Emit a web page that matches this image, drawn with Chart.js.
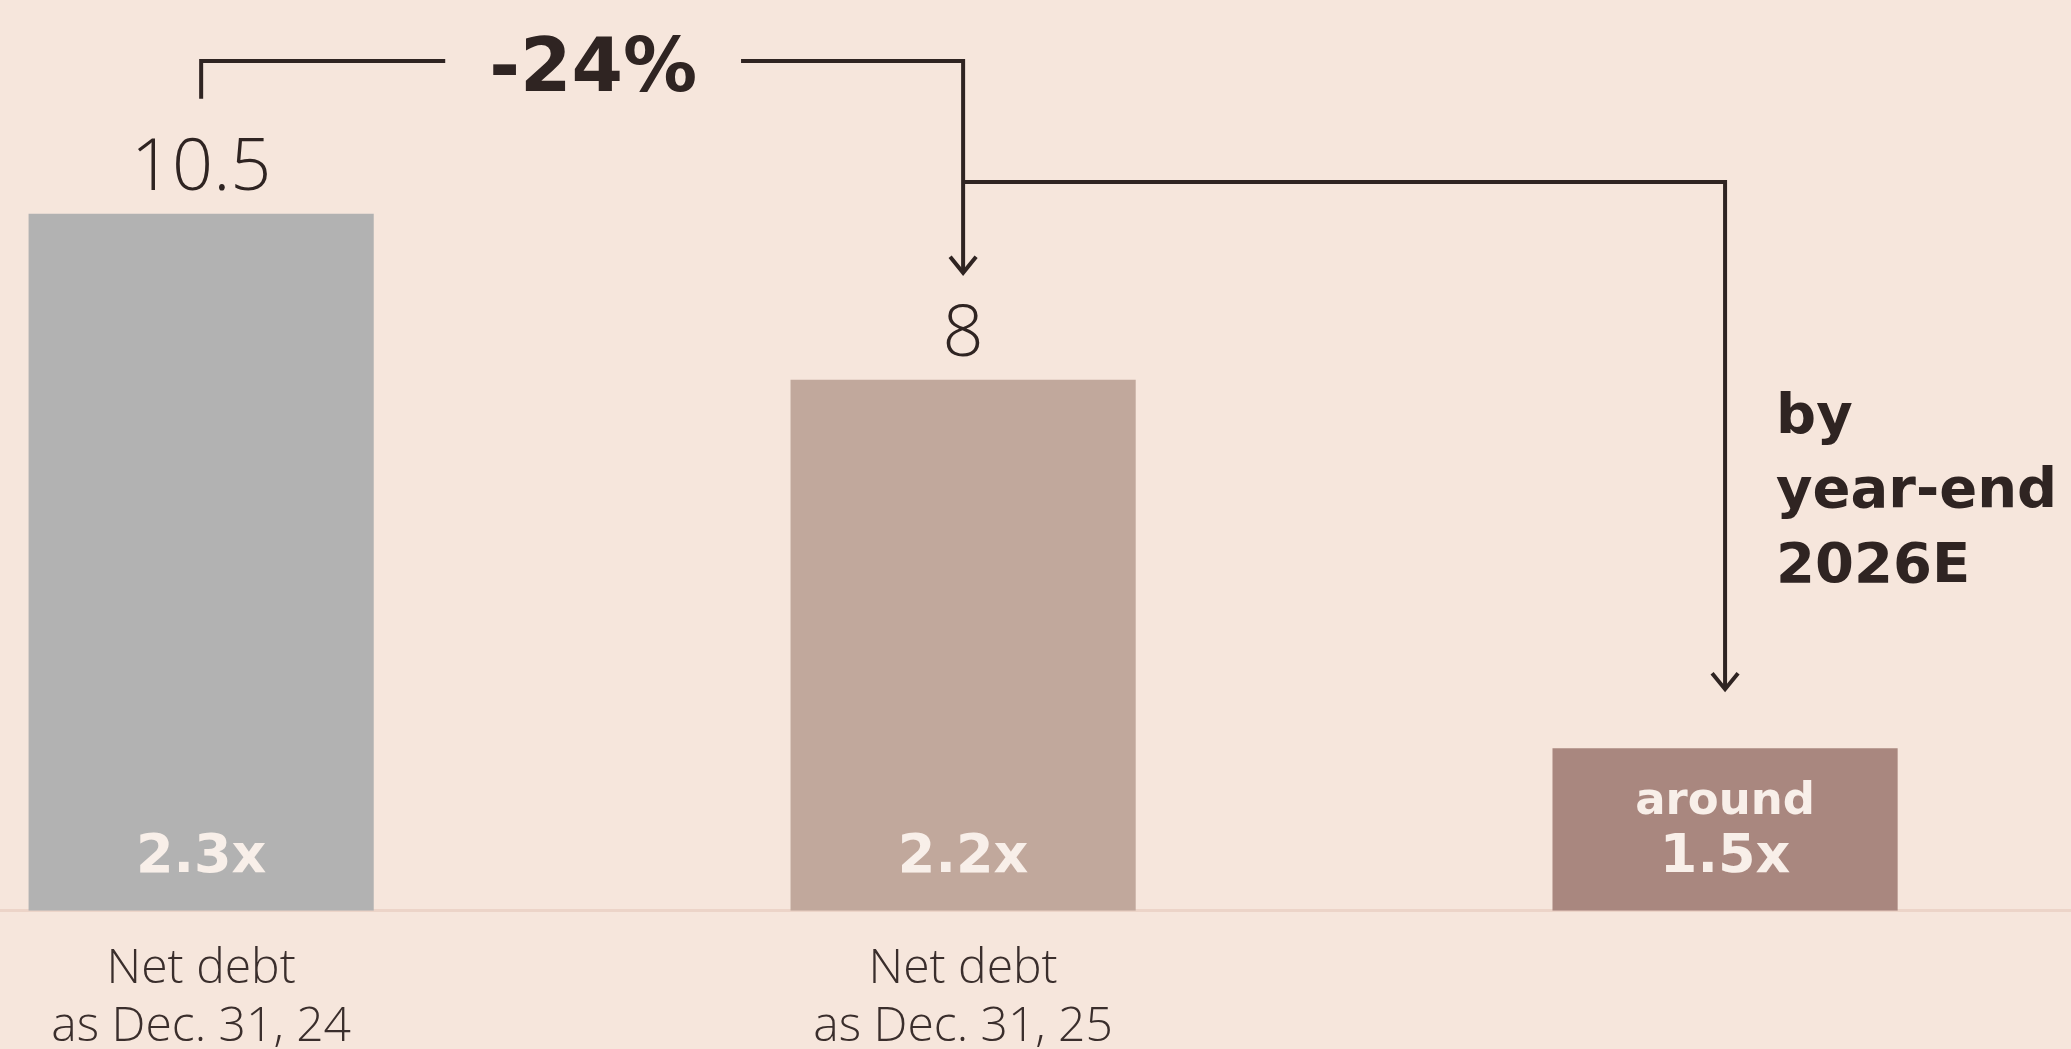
<!DOCTYPE html>
<html>
<head>
<meta charset="utf-8">
<script src="https://cdn.jsdelivr.net/npm/chart.js@4"></script>
<style>
  html, body { margin: 0; padding: 0; background: #f6e6dc; overflow: hidden; }
  #wrap { width: 2071px; height: 1049px; position: relative; }
</style>
</head>
<body>
<div id="wrap"><canvas id="debtChart"></canvas></div>
<script>
// data
const tickLabels = [['Net debt', 'as Dec. 31, 24'], ['Net debt', 'as Dec. 31, 25'], ''];
const netDebt = [10.5, 8, 2.45];
const valueLabels = ['10.5', '8', ''];
const leverage = ['2.3x', '2.2x', '1.5x'];
const leveragePrefix = ['', '', 'around'];
const changeLabel = '-24%';
const targetNote = ['by', 'year-end', '2026E'];

const barColors = ['#b2b2b2', '#c1a89c', '#a9877f'];
const dark = '#2f2422';
const light = '#f8efe9';

Chart.defaults.font.family = '"Open Sans", sans-serif';

// draws the numbers on/above bars and the bracket arrows
const annotations = {
  id: 'annotations',
  afterDatasetsDraw(chart) {
    const ctx = chart.ctx;
    const bars = chart.getDatasetMeta(0).data;
    const base = chart.scales.y.getPixelForValue(0);
    ctx.save();
    ctx.textAlign = 'center';
    ctx.textBaseline = 'middle';

    bars.forEach((bar, i) => {
      if (valueLabels[i]) {
        ctx.font = '300 72px "Open Sans"';
        ctx.fillStyle = dark;
        ctx.fillText(valueLabels[i], bar.x, bar.y - 44);
      }
      ctx.fillStyle = light;
      ctx.font = 'bold 54px "DejaVu Sans"';
      ctx.fillText(leverage[i], bar.x, base - 53);
      if (leveragePrefix[i]) {
        ctx.font = 'bold 45px "DejaVu Sans"';
        ctx.fillText(leveragePrefix[i], bar.x, base - 108);
      }
    });

    const b0 = bars[0], b1 = bars[1], b2 = bars[2];
    const topY = 61;
    const midY = 182;

    // -24% label
    ctx.font = 'bold 74px "DejaVu Sans"';
    ctx.fillStyle = dark;
    const cx = (b0.x + b1.x) / 2 + 11;
    ctx.fillText(changeLabel, cx, 72);
    const half = ctx.measureText(changeLabel).width / 2 + 44;

    ctx.strokeStyle = dark;
    ctx.lineWidth = 4;
    ctx.lineJoin = 'miter';
    ctx.beginPath();
    ctx.moveTo(b0.x, b0.y - 115);
    ctx.lineTo(b0.x, topY);
    ctx.lineTo(cx - half, topY);
    ctx.moveTo(cx + half, topY);
    ctx.lineTo(b1.x, topY);
    ctx.lineTo(b1.x, b1.y - 107);
    ctx.moveTo(b1.x, midY);
    ctx.lineTo(b2.x, midY);
    ctx.lineTo(b2.x, b2.y - 59);
    ctx.stroke();

    function arrowHead(x, y) {
      ctx.beginPath();
      ctx.moveTo(x - 13, y - 16);
      ctx.lineTo(x, y);
      ctx.lineTo(x + 13, y - 16);
      ctx.stroke();
    }
    arrowHead(b1.x, b1.y - 107);
    arrowHead(b2.x, b2.y - 59);

    // note at the right
    ctx.textAlign = 'left';
    ctx.font = 'bold 56px "DejaVu Sans"';
    const noteY = [418, 492, 567];
    targetNote.forEach((t, i) => ctx.fillText(t, b2.x + 51, noteY[i]));
    ctx.restore();
  }
};

const ctx = document.getElementById('debtChart').getContext('2d');

const myChart = new Chart(ctx, {
  type: 'bar',
  data: {
    datasets: [{
      data: netDebt.map((v, i) => ({ x: i, y: v })),
      backgroundColor: barColors,
      borderWidth: 0,
      barPercentage: 0.453,
      categoryPercentage: 1
    }]
  },
  options: {
    responsive: true,
    maintainAspectRatio: false,
    animation: false,
    layout: { padding: { top: 0, left: 0, right: 0, bottom: -37 } },
    plugins: {
      legend: { display: false },
      tooltip: { enabled: false }
    },
    scales: {
      x: {
        type: 'linear',
        offset: false,
        min: -0.264,
        max: 2.454,
        afterBuildTicks: (axis) => {
          axis.ticks = tickLabels.map((t, i) => ({ value: i }));
        },
        grid: { display: false, drawTicks: false },
        border: { display: true, color: '#ecd4c8', width: 3 },
        ticks: {
          padding: 30,
          color: '#3a2e2c',
          font: { size: 48, weight: '300', lineHeight: 1.2 },
          callback: (value) => tickLabels[value]
        }
      },
      y: {
        display: false,
        min: 0,
        max: 13.72
      }
    }
  },
  plugins: [annotations]
});
</script>
</body>
</html>
